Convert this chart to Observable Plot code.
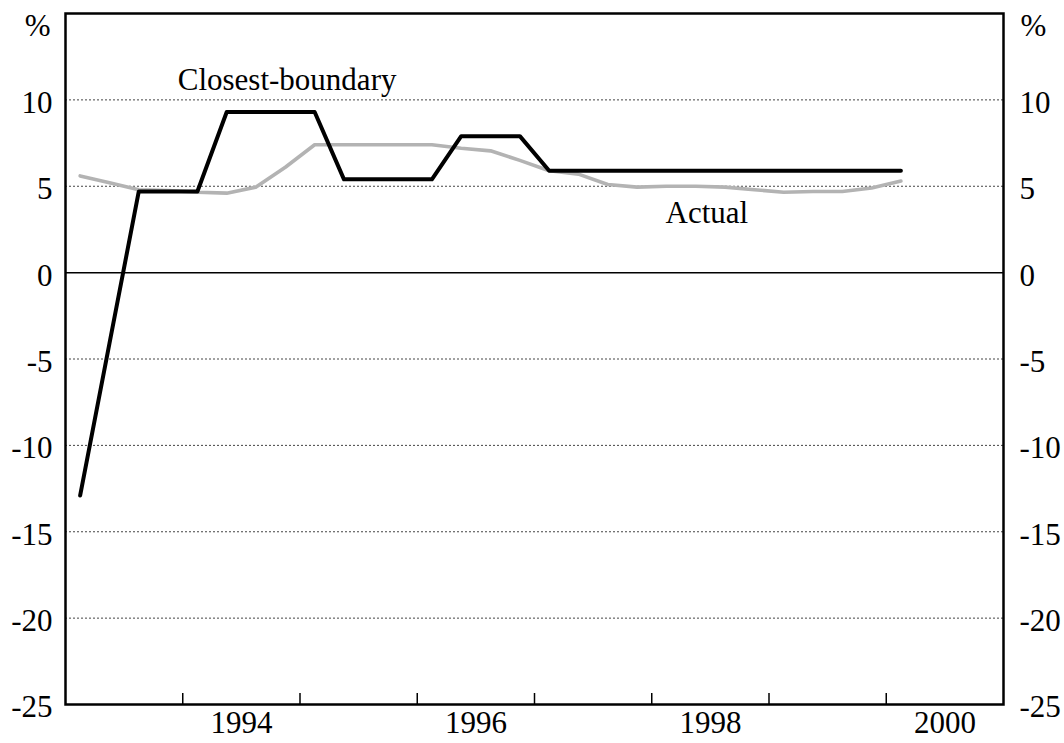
<!DOCTYPE html>
<html>
<head>
<meta charset="utf-8">
<script src="https://cdn.jsdelivr.net/npm/d3@7"></script>
<script src="https://cdn.jsdelivr.net/npm/@observablehq/plot@0.6"></script>
<style>
  html, body { margin: 0; padding: 0; background: #fff; }
  #chart { width: 1064px; height: 743px; }
</style>
</head>
<body>
<div id="chart"></div>
<script>
const quarters = [
  "1993Q1","1993Q2","1993Q3","1993Q4",
  "1994Q1","1994Q2","1994Q3","1994Q4",
  "1995Q1","1995Q2","1995Q3","1995Q4",
  "1996Q1","1996Q2","1996Q3","1996Q4",
  "1997Q1","1997Q2","1997Q3","1997Q4",
  "1998Q1","1998Q2","1998Q3","1998Q4",
  "1999Q1","1999Q2","1999Q3","1999Q4",
  "2000Q1"
];
const closestBoundary = [
  -12.9, -4.1, 4.7, 4.7,
  4.7, 9.3, 9.3, 9.3,
  9.3, 5.4, 5.4, 5.4,
  5.4, 7.9, 7.9, 7.9,
  5.9, 5.9, 5.9, 5.9,
  5.9, 5.9, 5.9, 5.9,
  5.9, 5.9, 5.9, 5.9,
  5.9
];
const actual = [
  5.6, 5.2, 4.8, 4.75,
  4.65, 4.6, 4.95, 6.1,
  7.4, 7.4, 7.4, 7.4,
  7.4, 7.2, 7.05, 6.5,
  5.9, 5.7, 5.1, 4.95,
  5.0, 5.0, 4.95, 4.8,
  4.65, 4.7, 4.7, 4.9,
  5.3
];
const yearTicks = [1994, 1995, 1996, 1997, 1998, 1999, 2000];
const yearLabels = [1994, 1996, 1998, 2000];
const yTicks = [-25, -20, -15, -10, -5, 0, 5, 10];
const gridTicks = [-20, -15, -10, -5, 5, 10];
const seriesLabels = ["Closest-boundary", "Actual"];
const seriesLabelX = [1994.89, 1998.47];
const seriesLabelY = [11.15, 3.45];

const qx = q => +q.slice(0, 4) + (+q.slice(5) - 0.5) / 4;
const cbData = quarters.map((q, i) => ({x: qx(q), y: closestBoundary[i]}));
const acData = quarters.map((q, i) => ({x: qx(q), y: actual[i]}));
const labelData = seriesLabels.map((t, i) => ({t, x: seriesLabelX[i], y: seriesLabelY[i]}));

const FS = 31;
const chart = Plot.plot({
  width: 1064,
  height: 743,
  marginLeft: 65,
  marginRight: 61,
  marginTop: 13,
  marginBottom: 39,
  style: {fontFamily: "'Liberation Serif', 'Times New Roman', serif", fontSize: FS + "px", color: "#000", background: "#fff"},
  x: {domain: [1993, 2001], axis: null},
  y: {domain: [-25, 15], axis: null},
  marks: [
    Plot.gridY(gridTicks, {stroke: "#444", strokeOpacity: 1, strokeWidth: 1, strokeDasharray: "2,2"}),
    Plot.ruleY([0], {stroke: "#000", strokeWidth: 1.5}),
    Plot.axisY(yTicks, {anchor: "left", label: null, tickSize: 0, tickPadding: 13, dy: 3, fontSize: FS, tickFormat: d => String(d)}),
    Plot.axisY(yTicks, {anchor: "right", label: null, tickSize: 0, tickPadding: 16, dy: 3, fontSize: FS, tickFormat: d => String(d)}),
    Plot.axisX(yearTicks, {anchor: "bottom", label: null, tickSize: -11, tickFormat: () => "", stroke: "#000", strokeWidth: 1.5}),
    Plot.axisX(yearLabels.map(y => y + 0.5), {anchor: "bottom", label: null, tickSize: 0, tickPadding: 6, tickFormat: d => String(Math.floor(d)), fontSize: FS}),
    Plot.line(acData, {x: "x", y: "y", stroke: "#b3b3b3", strokeWidth: 3.6}),
    Plot.line(cbData, {x: "x", y: "y", stroke: "#000", strokeWidth: 4}),
    Plot.text(labelData, {x: "x", y: "y", text: "t", fontSize: FS, fill: "#000"}),
    Plot.text(["%"], {frameAnchor: "top-left", dx: -15, dy: 13, textAnchor: "end", lineAnchor: "middle", fontSize: FS}),
    Plot.text(["%"], {frameAnchor: "top-right", dx: 17, dy: 13, textAnchor: "start", lineAnchor: "middle", fontSize: FS}),
    Plot.frame({stroke: "#000", strokeWidth: 2.5})
  ]
});
document.getElementById("chart").appendChild(chart);
</script>
</body>
</html>
